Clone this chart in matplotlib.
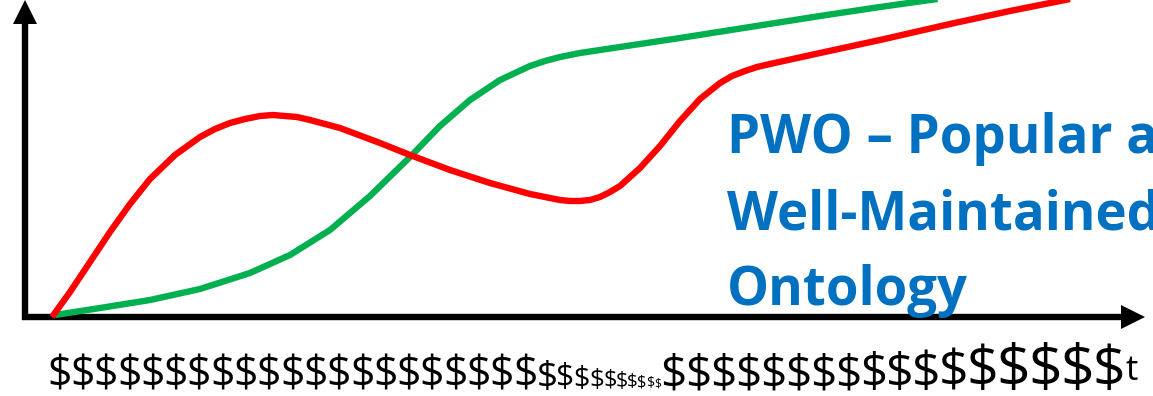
import matplotlib
matplotlib.use("Agg")
import matplotlib.pyplot as plt

# ---- data: time along x, value along y -------------------------------------
green_t = [30, 75, 125, 175, 225, 265, 305, 345, 385, 415, 445, 475, 505,
           520, 535, 545, 555, 575, 595, 655, 725, 795, 855, 905, 935]
green_v = [2, 9, 17, 28, 44, 62, 87, 121, 160, 191, 217, 237, 251,
           256, 260, 262, 264, 267, 270, 279, 290, 301, 310, 317, 321]

red_t = [27, 45, 65, 85, 105, 125, 150, 175, 190, 205, 220, 235, 248, 260,
         272, 285, 315, 355, 385, 425, 465, 505, 535, 545, 555, 565, 575,
         585, 595, 615, 635, 655, 675, 695, 707, 720, 732, 745, 795, 855,
         925, 985, 1040, 1060]
red_v = [0, 25, 55, 85, 113, 138, 162, 180, 188, 194, 198, 201, 202, 201,
         200, 197, 189, 174, 162, 147, 134, 123, 117, 116, 116, 117, 120,
         125, 131, 149, 171, 196, 218, 234, 241, 246, 250, 253, 264, 277,
         293, 306, 317, 321]

title_lines = ["PWO \u2013 Popular and", "Well-Maintained", "Ontology"]

# relative size of each "$" along the time axis
dollar_scale = ([1.0] * 21
                + [0.86, 0.74, 0.67, 0.60, 0.54, 0.49, 0.44, 0.38, 0.33, 0.28]
                + [1.07] * 8
                + [1.10, 1.12, 1.16, 1.20, 1.29, 1.37, 1.37, 1.37, 1.33])
time_label = "t"

# ---- style -----------------------------------------------------------------
GREEN = "#00B050"
RED = "#FF0000"
BLUE = "#0070C0"
W, H = 1153, 396
ORIGIN_X, ORIGIN_Y = 25, 317          # pixel position of the axis corner

fig = plt.figure(figsize=(W / 100, H / 100), dpi=100)
ax = fig.add_axes([0, 0, 1, 1])
ax.set_xlim(-ORIGIN_X, W - ORIGIN_X)
ax.set_ylim(-(H - ORIGIN_Y), ORIGIN_Y)
ax.axis("off")

# axes with arrow heads
axis_lw = 4.6
head = 24  # px
ax.plot([-3, W - ORIGIN_X - 8 - head + 2], [0, 0], color="black",
        lw=axis_lw, solid_capstyle="butt")
ax.plot([W - ORIGIN_X - 8 - head / 2], [0], marker=">", ms=head * 0.72,
        color="black", mew=0)
ax.plot([0, 0], [-3, ORIGIN_Y - head + 2], color="black",
        lw=axis_lw, solid_capstyle="butt")
ax.plot([0], [ORIGIN_Y - head / 2], marker="^", ms=head * 0.72,
        color="black", mew=0)

# curves
ax.plot(green_t, green_v, color=GREEN, lw=4.6, solid_joinstyle="round",
        solid_capstyle="butt", zorder=3)
ax.plot(red_t, red_v, color=RED, lw=4.6, solid_joinstyle="round",
        solid_capstyle="butt", zorder=4)

# label block
title_font = dict(family="Open Sans", weight="bold", color=BLUE,
                  fontsize=38, ha="left", va="baseline")
for line, py in zip(title_lines, [153, 229, 305]):
    ax.text(727 - ORIGIN_X, ORIGIN_Y - py, line, **title_font)

# row of dollar signs under the time axis: one glyph per step, each step's
# width and type size follow its scale
pitch = 23.3        # px per full-size "$"
base_size = 31.0    # pt for a full-size "$"
dollar_font = dict(family="Open Sans", ha="left", va="baseline",
                   color="black", parse_math=False)

x = 47 - ORIGIN_X
baseline = ORIGIN_Y - 387
for s in dollar_scale:
    ax.text(x, baseline, "$", fontsize=base_size * s, **dollar_font)
    x += pitch * s

ax.text(x + 2, ORIGIN_Y - 380, time_label, fontsize=25, **dollar_font)

fig.savefig("out.png", dpi=100)
